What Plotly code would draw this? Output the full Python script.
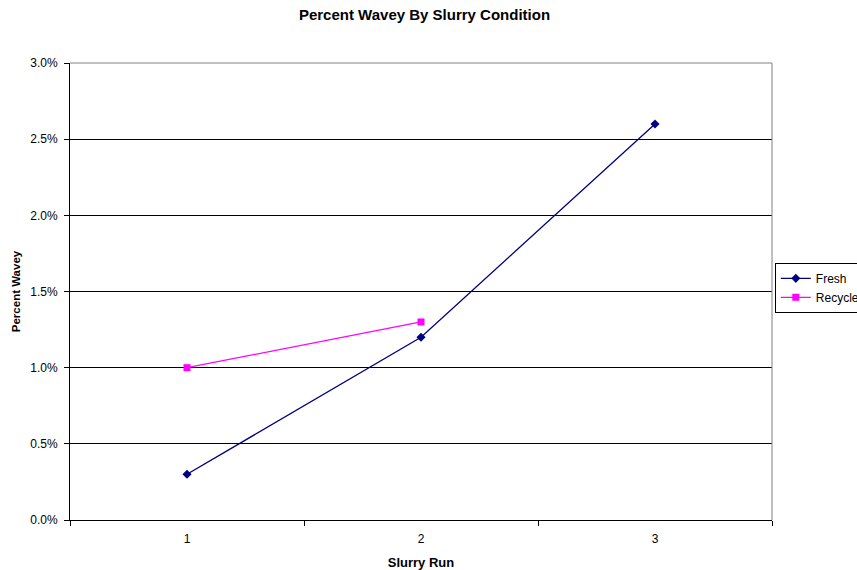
import plotly.graph_objects as go

runs = ["1", "2", "3"]
fresh = [0.003, 0.012, 0.026]
recycle_runs = ["1", "2"]
recycle = [0.010, 0.013]
y_ticks = [0.0, 0.005, 0.010, 0.015, 0.020, 0.025, 0.030]

font_family = "Liberation Sans, Arial, sans-serif"

fig = go.Figure()
fig.add_trace(go.Scatter(
    x=runs, y=fresh, name="Fresh", mode="lines+markers",
    line=dict(color="#000080", width=1.3),
    marker=dict(symbol="diamond", size=7, color="#000080"),
))
fig.add_trace(go.Scatter(
    x=recycle_runs, y=recycle, name="Recycle", mode="lines+markers",
    line=dict(color="#FF00FF", width=1.3),
    marker=dict(symbol="square", size=7, color="#FF00FF"),
))

fig.update_layout(
    width=857, height=570,
    margin=dict(l=70, r=85, t=63, b=50, autoexpand=False),
    paper_bgcolor="white", plot_bgcolor="white",
    font=dict(family=font_family, size=12, color="black"),
    title=dict(text="<b>Percent Wavey By Slurry Condition</b>",
               x=0.505, xanchor="center", xref="paper",
               y=1 - 15 / 570, yref="container", yanchor="middle",
               font=dict(size=15)),
    showlegend=True,
    legend=dict(x=1.004, y=0.508, xanchor="left", yanchor="middle",
                bordercolor="black", borderwidth=1, bgcolor="white",
                font=dict(size=12), tracegroupgap=0,
                itemwidth=30),
    xaxis=dict(
        type="category", categoryorder="array", categoryarray=runs,
        range=[-0.5, 2.5], showgrid=False,
        ticks="outside", tickson="boundaries", ticklen=5, tickcolor="black",
        ticklabelstandoff=8,
        showline=True, linecolor="black", linewidth=1,
        title=dict(text="<b>Slurry Run</b>", font=dict(size=13), standoff=14),
        tickfont=dict(size=12), zeroline=False,
    ),
    yaxis=dict(
        range=[0, 0.030], tickvals=y_ticks, tickformat=".1%",
        showgrid=True, gridcolor="black", gridwidth=1,
        ticks="outside", ticklen=5, tickcolor="black",
        ticklabelstandoff=4,
        showline=True, linecolor="black", linewidth=1,
        title=dict(text="<b>Percent Wavey</b>", font=dict(size=11.5), standoff=7),
        tickfont=dict(size=12), zeroline=False,
    ),
    shapes=[
        dict(type="line", xref="paper", yref="paper", x0=0, x1=1, y0=1, y1=1,
             line=dict(color="#808080", width=1), layer="above"),
        dict(type="line", xref="paper", yref="paper", x0=1, x1=1, y0=0, y1=1,
             line=dict(color="#808080", width=1), layer="above"),
    ],
)

fig.write_html("out.html")
